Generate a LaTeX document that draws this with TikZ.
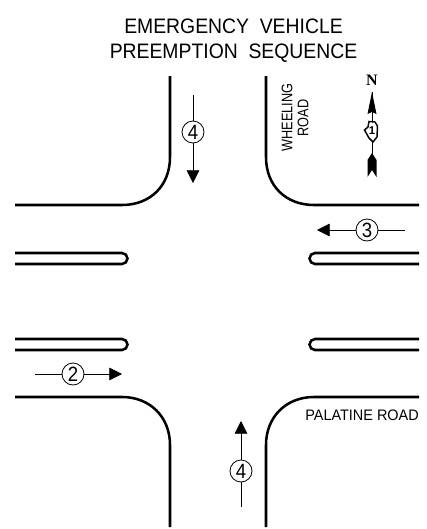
\documentclass[tikz,border=0pt]{standalone}
\usepackage{fontspec}
\setmainfont{Liberation Sans}
\newfontfamily\serifb{Liberation Serif}
\newfontfamily\titlef[FakeStretch=0.925]{Liberation Sans}
\newfontfamily\wheelf[FakeStretch=0.83]{Liberation Sans}
\newfontfamily\palf[FakeStretch=0.95]{Liberation Sans}
\newfontfamily\digf[FakeStretch=0.9]{Liberation Sans}
\usetikzlibrary{arrows.meta}
\tikzset{
  curb/.style={line width=1.9pt,line cap=butt},
  phase/.style={draw,circle,line width=0.6pt,minimum size=16.5pt,inner sep=0pt,font=\digf\fontsize{15.5}{15.5}\selectfont},
  flow/.style={line width=0.6pt},
  flowend/.style={line width=0.6pt,-{Triangle[length=9.5pt,width=9.5pt]}},
  lbl/.style={inner sep=0pt},
  title/.style={inner sep=0pt,align=center,font=\titlef\fontsize{15.7}{18.75}\selectfont}
}
\begin{document}
\begin{tikzpicture}[x=0.75pt,y=-0.75pt]
\useasboundingbox (0,0) rectangle (426,529);
\fill[white] (0,0) rectangle (426,529);
\node[title] (ttl) at (233.5,40.5) {EMERGENCY\ \ VEHICLE\\PREEMPTION\ \ SEQUENCE};
% curbs
\draw[curb] (170,76) -- (170,157) .. controls (170,186) and (150,205) .. (122,205) -- (15,205);
\draw[curb] (266,76) -- (266,157) .. controls (266,186) and (286,205) .. (314,205) -- (419,205);
\draw[curb] (15,397) -- (122,397) .. controls (150,397) and (170,417) .. (170,445) -- (170,527);
\draw[curb] (419,397) -- (314,397) .. controls (286,397) and (266,417) .. (266,445) -- (266,527);
% medians
\draw[curb] (15,253) -- (122,253) arc[start angle=90,end angle=-90,x radius=5.5,y radius=-5.5] -- (15,264);
\draw[curb] (15,339) -- (122,339) arc[start angle=90,end angle=-90,x radius=5.5,y radius=-5.5] -- (15,350);
\draw[curb] (419,253) -- (315,253) arc[start angle=90,end angle=270,x radius=5.5,y radius=-5.5] -- (419,264);
\draw[curb] (419,339) -- (315,339) arc[start angle=90,end angle=270,x radius=5.5,y radius=-5.5] -- (419,350);
% phases
\node[phase] (p4n) at (193,132) {4};
\coordinate (p4na) at (193,95); \coordinate (p4nb) at (193,183);
\draw[flow] (p4na) -- (p4n); \draw[flowend] (p4n) -- (p4nb);
\node[phase] (p4s) at (241,471) {4};
\coordinate (p4sa) at (241,507); \coordinate (p4sb) at (241,421);
\draw[flow] (p4sa) -- (p4s); \draw[flowend] (p4s) -- (p4sb);
\node[phase] (p3) at (367,230) {3};
\coordinate (p3a) at (405,230); \coordinate (p3b) at (317,230);
\draw[flow] (p3a) -- (p3); \draw[flowend] (p3) -- (p3b);
\node[phase] (p2) at (73,374) {2};
\coordinate (p2a) at (35,374); \coordinate (p2b) at (122,374);
\draw[flow] (p2a) -- (p2); \draw[flowend] (p2) -- (p2b);
% labels
\node[lbl,rotate=90,font=\wheelf\fontsize{11.5}{12}\selectfont] (wh) at (287,117.5) {WHEELING};
\node[lbl,rotate=90,font=\wheelf\fontsize{11.5}{12}\selectfont] (rd) at (303,118) {ROAD};
\node[lbl,anchor=east,font=\palf\fontsize{11.4}{12}\selectfont] (pal) at (419,415) {PALATINE ROAD};
% north arrow
\node[inner sep=0pt,font=\serifb\bfseries\fontsize{12}{12}\selectfont] (nn) at (372,80) {N};
\draw[line width=0.7pt] (372,92) -- (372,155);
\fill (372,92) -- (376.5,114) -- (372,112) -- (367.5,114) -- cycle;
\fill (367.5,160) -- (372,153) -- (376.5,160) -- (376.5,177) -- (372,170) -- (367.5,177) -- cycle;
\draw[fill=white,line width=1.1pt] (369,121.5) -- (375,122) -- (377.5,126) -- (377,137) -- (373,142) -- (369,138) -- (364.5,130) -- (368,127) -- cycle;
\node[inner sep=0pt,font=\bfseries\fontsize{8.5}{8.5}\selectfont] (one) at (372,131) {1};
\end{tikzpicture}
\end{document}
